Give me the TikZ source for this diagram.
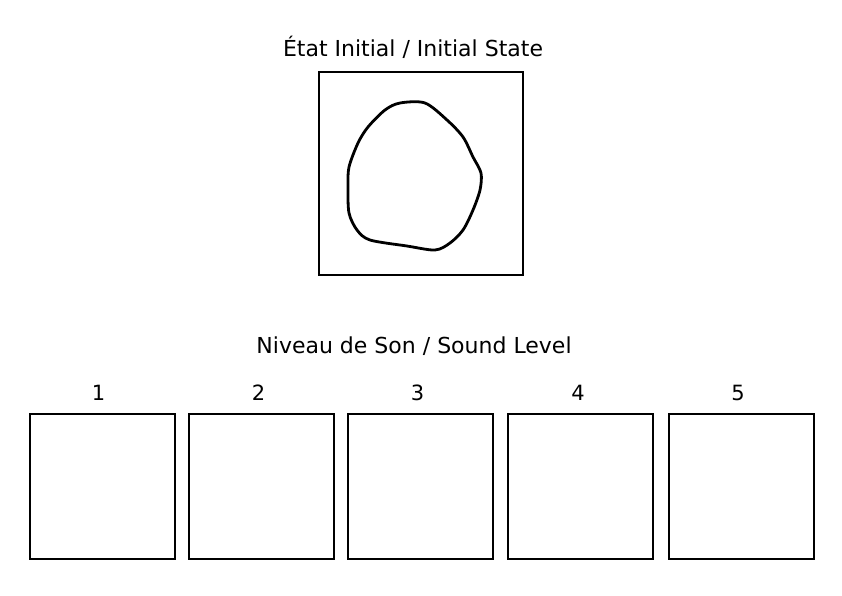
\documentclass[tikz,border=0pt]{standalone}
\usepackage{fontspec}
\setmainfont{DejaVu Sans}
\usetikzlibrary{positioning}

\begin{document}
\begin{tikzpicture}[
    x=1pt, y=-1pt,
    title/.style={font=\fontsize{22}{26}\selectfont, inner sep=0pt},
    num/.style={font=\fontsize{21}{24}\selectfont, inner sep=0pt},
    frame/.style={draw, line width=1.4pt, minimum width=204pt, minimum height=203pt, inner sep=0pt},
    level/.style={draw, line width=2pt, minimum width=145pt, minimum height=145pt, inner sep=0pt},
    blob/.style={line width=2.8pt, line join=round},
]
\useasboundingbox (0,0) rectangle (842,595);

% Top: initial state
\node[title] (initlbl) at (413, 47) {État Initial / Initial State};
\node[frame] (init) at (421, 173.5) {};
\draw[blob] plot[smooth cycle, tension=0.5] coordinates {
    (400,103) (425,103) (447,120) (463,137) (473,157) (481,173)
    (480,190) (473,210) (463,230) (450,243) (435,250) (407,246)
    (370,240) (357,230) (349,213) (348,187) (349,167) (358,143)
    (368,127) (385,110)};

% Bottom: sound level row
\node[title] (levellbl) at (414, 346) {Niveau de Son / Sound Level};
\node[level] (lv1) at (102.5, 486.5) {};
\node[level] (lv2) at (261.5, 486.5) {};
\node[level] (lv3) at (420.5, 486.5) {};
\node[level] (lv4) at (580, 486.5) {};
\node[level] (lv5) at (741, 486.5) {};

\node[num, above=12pt of lv1, xshift=-4pt] (n1) {1};
\node[num, above=12pt of lv2, xshift=-3pt] (n2) {2};
\node[num, above=12pt of lv3, xshift=-3pt] (n3) {3};
\node[num, above=12pt of lv4, xshift=-2pt] (n4) {4};
\node[num, above=12pt of lv5, xshift=-3pt] (n5) {5};

\end{tikzpicture}
\end{document}
